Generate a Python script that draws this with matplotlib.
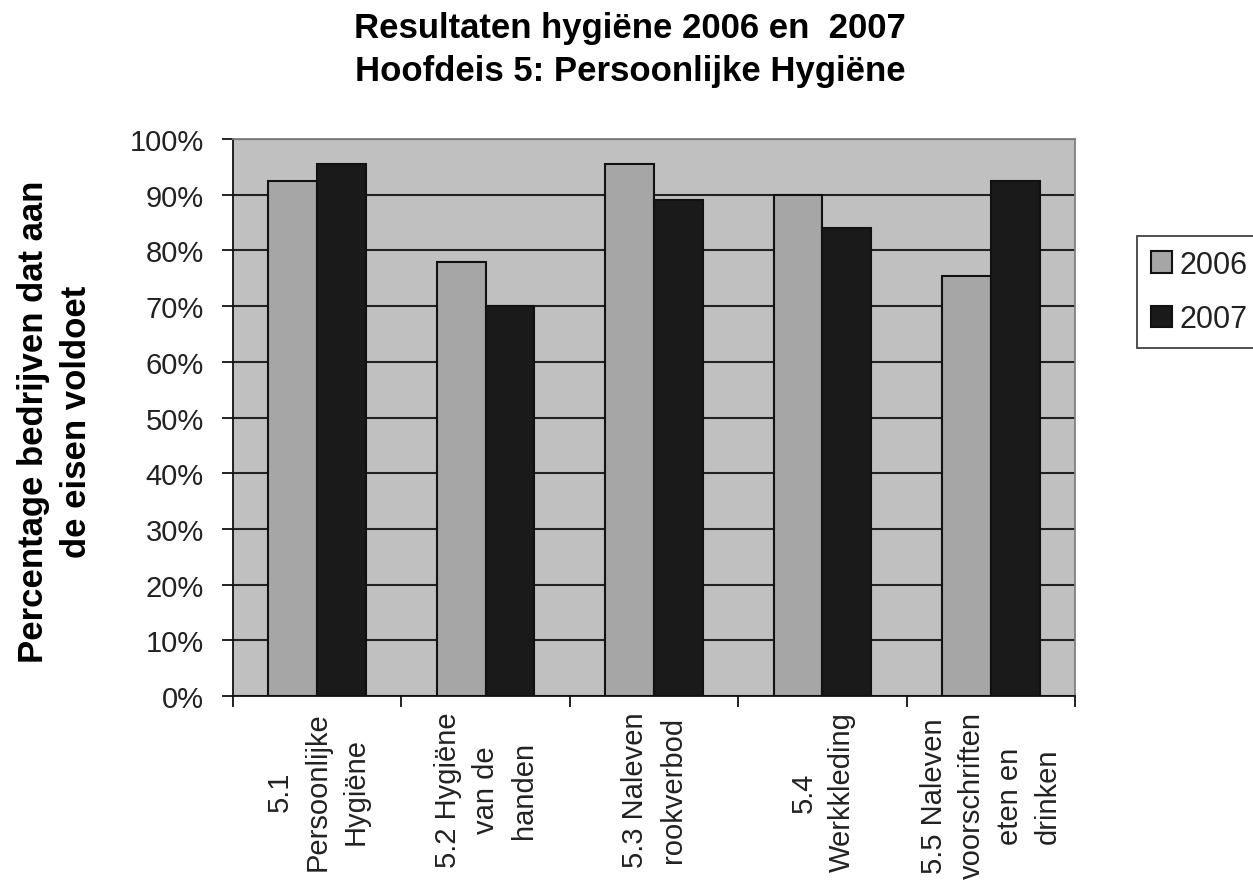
import numpy as np
import matplotlib
matplotlib.use('Agg')
import matplotlib.pyplot as plt
from matplotlib.ticker import PercentFormatter

plt.rcParams['font.family'] = ['Liberation Sans', 'DejaVu Sans']

categories = ['5.1\nPersoonlijke\nHygiëne', '5.2 Hygiëne\nvan de\nhanden',
              '5.3 Naleven\nrookverbod', '5.4\nWerkkleding',
              '5.5 Naleven\nvoorschriften\neten en\ndrinken']
years = ['2006', '2007']
v2006 = [92.5, 78, 95.5, 90, 75.5]
v2007 = [95.5, 70, 89, 84, 92.5]
yticks = [0, 10, 20, 30, 40, 50, 60, 70, 80, 90, 100]

fig = plt.figure(figsize=(12.53, 8.95), dpi=100)
ax = fig.add_axes([0.186, 0.221, 0.672, 0.6225])
ax.set_facecolor('#c0c0c0')

x = np.arange(len(categories))
w = 0.29
ax.bar(x - w / 2, v2006, w, color='#a6a6a6', edgecolor='#111111', linewidth=1.5, label=years[0], zorder=3)
ax.bar(x + w / 2, v2007, w, color='#1a1a1a', edgecolor='#111111', linewidth=1.5, label=years[1], zorder=3)

ax.set_xlim(-0.5, len(categories) - 0.5)
ax.set_ylim(0, 100)
ax.set_yticks(yticks)
ax.yaxis.set_major_formatter(PercentFormatter(decimals=0))
ax.yaxis.grid(True, color='#222222', linewidth=1.5, zorder=1)
ax.set_axisbelow(True)

ax.set_xticks(np.arange(len(categories) + 1) - 0.5)
ax.set_xticklabels([])
ax.tick_params(axis='both', direction='out', length=8, width=1.3, color='#111111')
ax.tick_params(axis='y', labelsize=21, pad=13, labelcolor='#222222')

for i, lab in enumerate(categories):
    ax.annotate(lab, (i, 0), xycoords=('data', 'axes fraction'), xytext=(0, -11),
                textcoords='offset points', rotation=90, ha='center', va='top',
                multialignment='center', fontsize=21, linespacing=1.45, color='#222222')

for s in ['top', 'right']:
    ax.spines[s].set_color('#808080')
    ax.spines[s].set_linewidth(1.3)
for s in ['left', 'bottom']:
    ax.spines[s].set_color('#111111')
    ax.spines[s].set_linewidth(1.3)

fig.text(55 / 1253, 1 - 422 / 895, 'Percentage bedrijven dat aan\nde eisen voldoet',
         rotation=90, ha='center', va='center', multialignment='center',
         fontsize=25, fontweight='bold', linespacing=1.4)

fig.suptitle('Resultaten hygiëne 2006 en  2007\nHoofdeis 5: Persoonlijke Hygiëne',
             x=0.503, y=0.987, fontsize=25, fontweight='bold', linespacing=1.4)

leg = fig.legend(loc='upper left', bbox_to_anchor=(1137 / 1253, 1 - 237 / 895), fontsize=22,
                 frameon=True, fancybox=False, edgecolor='#111111', handlelength=0.7,
                 handleheight=0.7, handletextpad=0.25, borderpad=0.45, labelspacing=0.8,
                 borderaxespad=0)
leg.get_frame().set_linewidth(1.3)
for t in leg.get_texts():
    t.set_color('#222222')

fig.savefig('out.png', dpi=100)
